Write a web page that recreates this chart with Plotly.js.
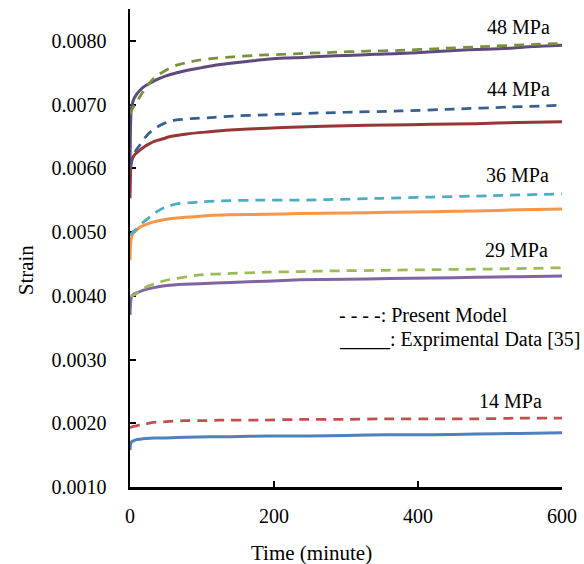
<!DOCTYPE html>
<html>
<head>
<meta charset="utf-8">
<script src="https://cdn.plot.ly/plotly-3.0.1.min.js"></script>
<style>
  html, body { margin: 0; padding: 0; background: #ffffff; }
  #chart { width: 584px; height: 564px; }
</style>
</head>
<body>
<div id="chart"></div>
<script>
// Creep strain vs. time at five stress levels: model (dashed) vs. experiment (solid)

// ---- 48 MPa ----
const tExp48 = [0, 0.5, 1.5, 3, 5, 8, 12, 18, 25, 35, 50, 65, 80, 100, 120, 140, 165, 190, 215, 240, 270, 300, 340, 375, 420, 470, 520, 560, 600];
const sExp48 = [0.00600, 0.00650, 0.00690, 0.00700, 0.00708, 0.00714, 0.00720, 0.00727, 0.00732, 0.00738, 0.00745, 0.00750, 0.00754, 0.00758, 0.00762, 0.00765, 0.00768, 0.00771, 0.00773, 0.00774, 0.00776, 0.00777, 0.00779, 0.00780, 0.00783, 0.00786, 0.00788, 0.00791, 0.00793];
const tMod48 = [0, 4, 8, 13, 18, 25, 32, 40, 50, 65, 80, 97, 120, 143, 170, 190, 215, 236, 280, 330, 375, 430, 490, 550, 600];
const sMod48 = [0.00685, 0.00695, 0.00702, 0.00711, 0.00720, 0.00731, 0.00740, 0.00747, 0.00754, 0.00762, 0.00766, 0.00770, 0.00773, 0.00775, 0.00777, 0.00778, 0.00779, 0.00780, 0.00782, 0.00784, 0.00785, 0.00788, 0.00791, 0.00794, 0.00796];

// ---- 44 MPa ----
const tExp44 = [0, 0.5, 1, 2, 4, 7, 10, 14, 20, 26, 33, 45, 56, 79, 107, 139, 190, 236, 300, 360, 420, 480, 540, 600];
const sExp44 = [0.00553, 0.00580, 0.00600, 0.00610, 0.00617, 0.00622, 0.00625, 0.00629, 0.00634, 0.00638, 0.00642, 0.00646, 0.00650, 0.00654, 0.00657, 0.00660, 0.00663, 0.00665, 0.00667, 0.00668, 0.00669, 0.00670, 0.00672, 0.00673];
const tMod44 = [0, 3, 7, 14, 20, 27, 35, 45, 53, 65, 85, 117, 143, 190, 236, 300, 375, 450, 525, 600];
const sMod44 = [0.00600, 0.00615, 0.00626, 0.00637, 0.00647, 0.00656, 0.00663, 0.00669, 0.00673, 0.00676, 0.00678, 0.00680, 0.00682, 0.00684, 0.00686, 0.00688, 0.00690, 0.00693, 0.00696, 0.00699];

// ---- 36 MPa ----
const tExp36 = [0, 0.5, 1.5, 3, 6, 10, 14, 20, 33, 45, 56, 75, 97, 139, 190, 236, 300, 360, 420, 480, 540, 600];
const sExp36 = [0.00456, 0.00475, 0.00488, 0.00495, 0.00500, 0.00504, 0.00508, 0.00511, 0.00516, 0.00519, 0.00521, 0.00523, 0.00525, 0.00527, 0.00528, 0.00529, 0.00530, 0.00531, 0.00532, 0.00533, 0.00535, 0.00536];
const tMod36 = [0, 4, 9, 14, 20, 28, 36, 45, 55, 64, 80, 94, 125, 180, 236, 277, 350, 420, 500, 600];
const sMod36 = [0.00495, 0.00500, 0.00505, 0.00511, 0.00517, 0.00524, 0.00531, 0.00537, 0.00541, 0.00544, 0.00546, 0.00547, 0.00549, 0.00550, 0.00550, 0.00551, 0.00553, 0.00555, 0.00557, 0.00560];

// ---- 29 MPa ----
const tExp29 = [0, 0.5, 1.5, 3, 6, 10, 19, 30, 51, 75, 97, 140, 190, 236, 300, 360, 420, 480, 540, 600];
const sExp29 = [0.00370, 0.00385, 0.00396, 0.00400, 0.00403, 0.00405, 0.00409, 0.00412, 0.00416, 0.00418, 0.00419, 0.00421, 0.00423, 0.00425, 0.00426, 0.00427, 0.00428, 0.00429, 0.00430, 0.00431];
const tMod29 = [0, 5, 10, 18, 27, 38, 49, 63, 80, 97, 140, 190, 236, 277, 350, 420, 500, 600];
const sMod29 = [0.00399, 0.00401, 0.00404, 0.00411, 0.00416, 0.00420, 0.00424, 0.00427, 0.00430, 0.00433, 0.00435, 0.00437, 0.00438, 0.00439, 0.00440, 0.00441, 0.00442, 0.00444];

// ---- 14 MPa ----
const tExp14 = [0, 0.5, 1.5, 4, 8, 14, 22, 33, 50, 79, 110, 139, 190, 250, 300, 360, 420, 480, 540, 600];
const sExp14 = [0.00158, 0.00165, 0.00170, 0.00172, 0.00174, 0.00175, 0.00176, 0.00177, 0.00177, 0.00178, 0.00179, 0.00179, 0.00180, 0.00180, 0.00181, 0.00182, 0.00182, 0.00183, 0.00184, 0.00185];
const tMod14 = [0, 4, 9, 15, 22, 30, 42, 54, 75, 101, 125, 180, 240, 300, 360, 420, 480, 540, 600];
const sMod14 = [0.00193, 0.00195, 0.00196, 0.00198, 0.00199, 0.00201, 0.00202, 0.00203, 0.00204, 0.00204, 0.00205, 0.00205, 0.00206, 0.00206, 0.00207, 0.00207, 0.00207, 0.00208, 0.00208];

// Stress labels and axis ticks
const stressLabels = ["48 MPa", "44 MPa", "36 MPa", "29 MPa", "14 MPa"];
const xTicks = [0, 200, 400, 600];
const yTicks = [0.0010, 0.0020, 0.0030, 0.0040, 0.0050, 0.0060, 0.0070, 0.0080];
const yTickText = ["0.0010", "0.0020", "0.0030", "0.0040", "0.0050", "0.0060", "0.0070", "0.0080"];

const FONT = "'Liberation Serif', 'Times New Roman', serif";
const DASH = "10px,7px";

function solid(x, y, color) {
  return { x, y, type: "scatter", mode: "lines",
           line: { color, width: 3, shape: "spline", smoothing: 0.6 }, hoverinfo: "skip" };
}
function dashed(x, y, color) {
  return { x, y, type: "scatter", mode: "lines",
           line: { color, width: 2.75, dash: DASH, shape: "spline", smoothing: 0.6 }, hoverinfo: "skip" };
}

const traces = [
  solid(tExp14, sExp14, "#4F81BD"),
  dashed(tMod14, sMod14, "#C0504D"),
  solid(tExp29, sExp29, "#8064A2"),
  dashed(tMod29, sMod29, "#9BBB59"),
  solid(tExp36, sExp36, "#F79646"),
  dashed(tMod36, sMod36, "#4BACC6"),
  solid(tExp44, sExp44, "#953735"),
  dashed(tMod44, sMod44, "#376092"),
  solid(tExp48, sExp48, "#604A7B"),
  dashed(tMod48, sMod48, "#76923C")
];

// Label anchor points (minutes, strain)
const labelPos = [[540, 0.008215], [540, 0.007238], [537.5, 0.005895], [537, 0.004715], [529, 0.002348]];

const annotations = stressLabels.map((txt, i) => ({
  x: labelPos[i][0], y: labelPos[i][1], xref: "x", yref: "y",
  text: txt, showarrow: false, xanchor: "center", yanchor: "middle",
  font: { family: FONT, size: 20, color: "#000000" }
}));

// Line-style key written as text
annotations.push({
  x: 287.3, y: 0.003693, xref: "x", yref: "y", text: "- - - -: Present Model",
  showarrow: false, xanchor: "left", yanchor: "middle",
  font: { family: FONT, size: 20, color: "#000000" }
});
annotations.push({
  x: 287.3, y: 0.003309, xref: "x", yref: "y", text: "_____: Exprimental Data [35]",
  showarrow: false, xanchor: "left", yanchor: "middle",
  font: { family: FONT, size: 20, color: "#000000" }
});

// Axis titles
annotations.push({
  x: 0.421, y: -0.1373, xref: "paper", yref: "paper", text: "Time (minute)",
  showarrow: false, xanchor: "center", yanchor: "middle",
  font: { family: FONT, size: 21, color: "#000000" }
});
annotations.push({
  x: -0.2399, y: 0.4541, xref: "paper", yref: "paper", text: "Strain", textangle: -90,
  showarrow: false, xanchor: "center", yanchor: "middle",
  font: { family: FONT, size: 21, color: "#000000" }
});

const layout = {
  width: 584, height: 564,
  margin: { l: 129.8, r: 21.5, t: 8.8, b: 76.7, pad: 0 },
  paper_bgcolor: "#ffffff", plot_bgcolor: "#ffffff",
  showlegend: false,
  font: { family: FONT, size: 20, color: "#000000" },
  xaxis: {
    range: [0, 600], tickvals: xTicks, ticktext: xTicks.map(String),
    showgrid: false, zeroline: false, showline: true, linecolor: "#000000", linewidth: 2.5,
    ticks: "inside", ticklen: 6, tickwidth: 2, tickcolor: "#000000",
    ticklabelstandoff: 9, layer: "below traces",
    tickfont: { family: FONT, size: 20, color: "#000000" }
  },
  yaxis: {
    range: [0.0010, 0.0085], tickvals: yTicks, ticktext: yTickText,
    showgrid: false, zeroline: false, showline: true, linecolor: "#000000", linewidth: 2.5,
    ticks: "inside", ticklen: 6, tickwidth: 2, tickcolor: "#000000",
    ticklabelstandoff: 17, layer: "below traces",
    tickfont: { family: FONT, size: 20, color: "#000000" }
  },
  annotations
};

Plotly.newPlot("chart", traces, layout, { displayModeBar: false, staticPlot: true });
</script>
</body>
</html>
